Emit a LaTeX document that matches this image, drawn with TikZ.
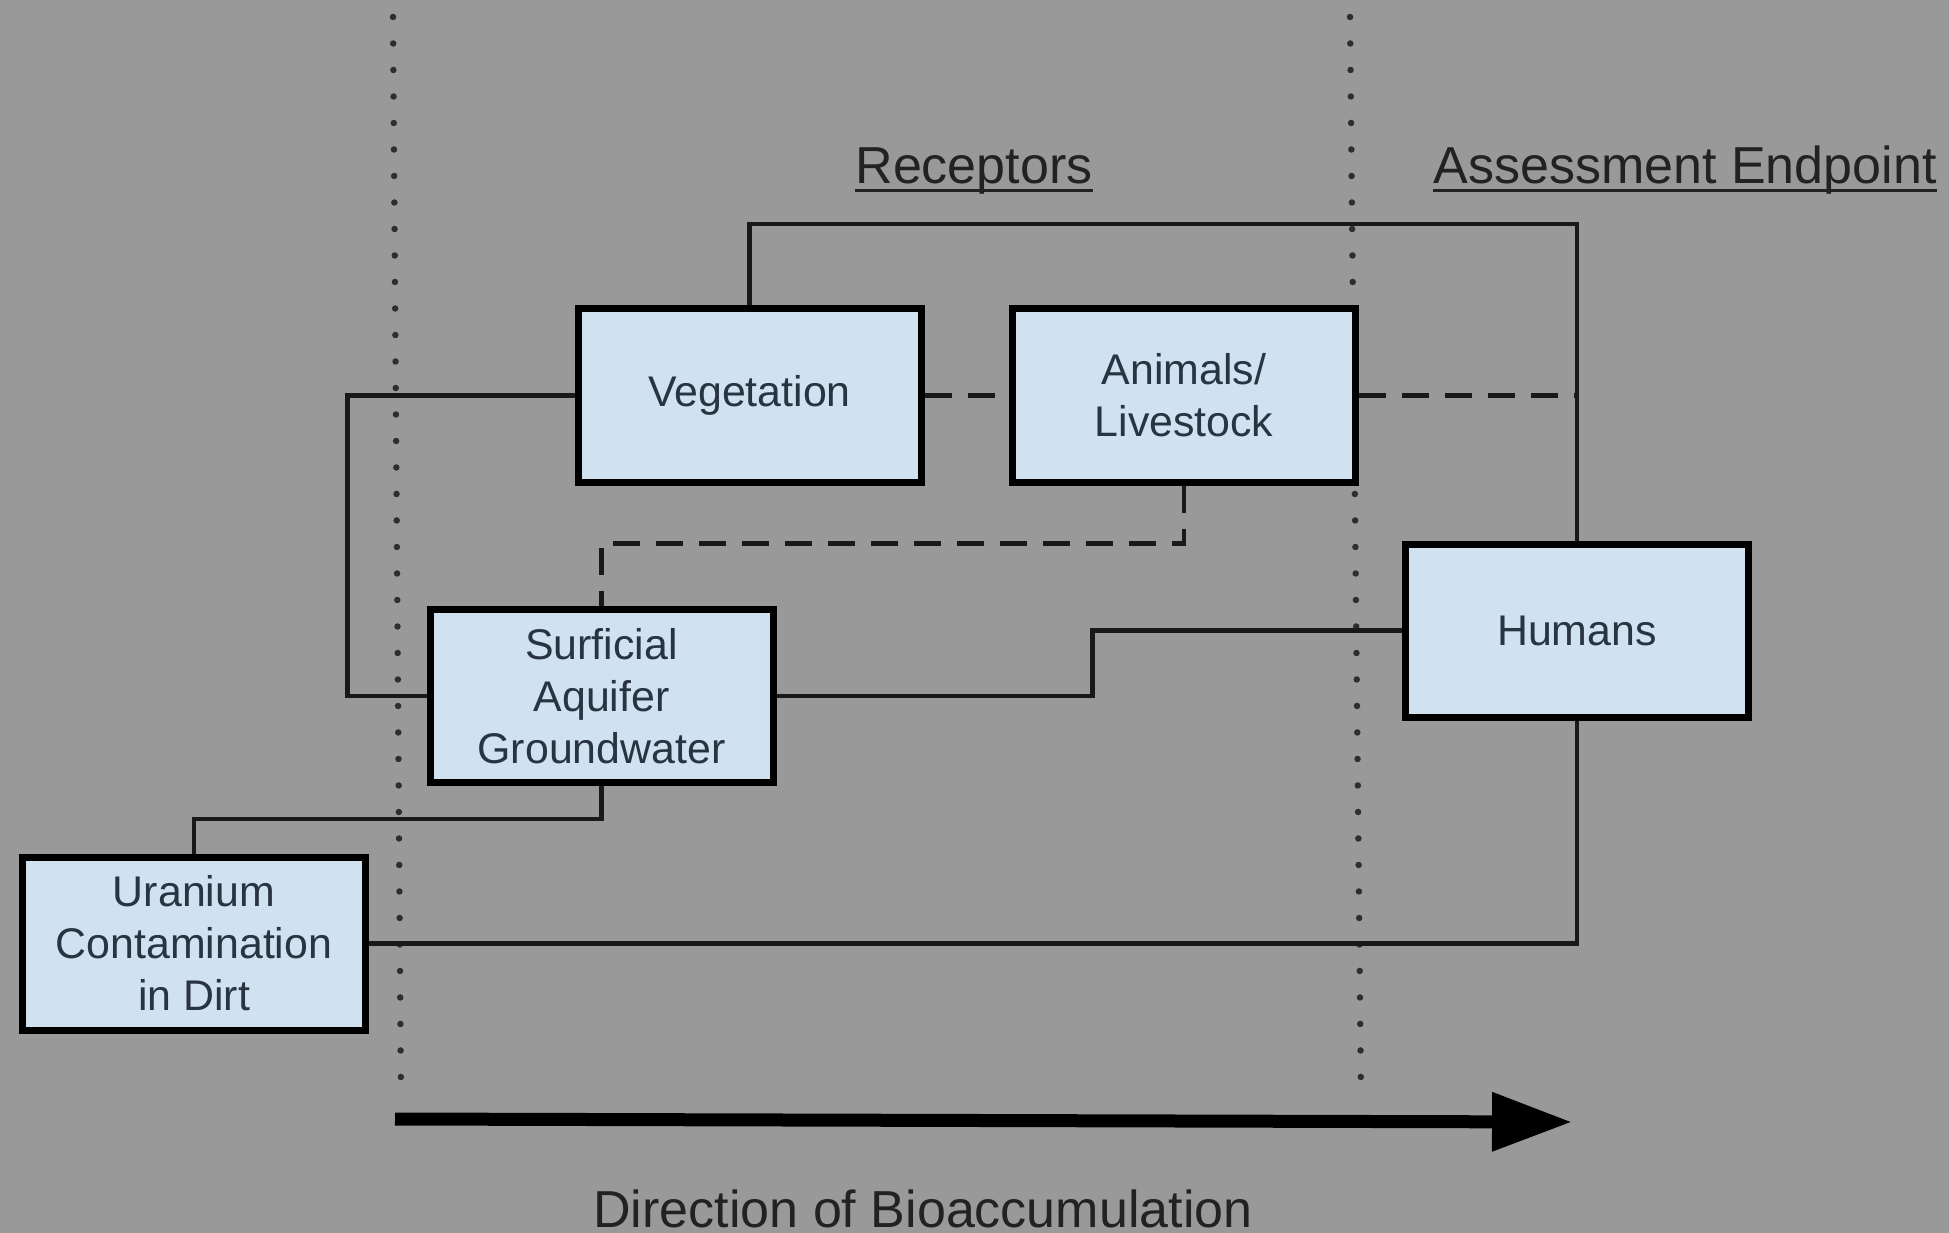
\documentclass[tikz,border=0pt]{standalone}
\usepackage{fontspec}
\setmainfont{Liberation Sans}
\usetikzlibrary{arrows.meta,calc}
\definecolor{bg}{RGB}{153,153,153}
\definecolor{boxfill}{RGB}{208,225,240}
\definecolor{boxtext}{RGB}{40,52,66}
\definecolor{headtext}{RGB}{34,34,34}
\begin{document}
\begin{tikzpicture}[
  box/.style={draw=black, line width=0.07cm, fill=boxfill, minimum width=3.43cm, minimum height=1.73cm, inner sep=0pt, align=center, text=boxtext, font=\fontsize{12.2}{14.8}\selectfont},
  conn/.style={line width=0.045cm, draw=black!90},
  dconn/.style={conn, dash pattern=on 0.27cm off 0.16cm},
  sepline/.style={line width=0.065cm, draw=black!82, dash pattern=on 0pt off 0.265cm, line cap=round},
  head/.style={font=\fontsize{14.8}{17}\selectfont, text=headtext, anchor=base, inner sep=0pt}
]
\fill[bg] (0,0) rectangle (19.49,-12.33);
\useasboundingbox (0,0) rectangle (19.49,-12.33);

% dotted separators
\coordinate (d1a) at (3.93,-0.17);
\coordinate (d1b) at (4.01,-11.02);
\coordinate (d2a) at (13.50,-0.17);
\coordinate (d2b) at (13.61,-11.00);
\draw[sepline] (d1a) -- (d1b);
\draw[sepline] (d2a) -- (d2b);

% boxes
\node[box] (veg) at (7.495,-3.955) {Vegetation};
\node[box] (anim) at (11.84,-3.955) {Animals/\\Livestock};
\node[box] (surf) at (6.015,-6.96) {Surficial\\Aquifer\\Groundwater};
\node[box] (hum) at (15.77,-6.305) {Humans};
\node[box] (ura) at (1.94,-9.435) {Uranium\\Contamination\\in Dirt};

% connectors
\coordinate (topy) at (0,-2.24);
\draw[conn] (veg.north) |- (topy -| hum.north) -- (hum.north);
\draw[conn] (veg.west) -- ++(-2.27,0) |- (surf.west);
\draw[dconn] (veg.east) -- (anim.west);
\draw[dconn] (anim.east) -- (anim.east -| hum.north);
\draw[dconn] (anim.south) -- ++(0,-0.58) -| (surf.north);
\draw[conn] (surf.east) -- ++(3.16,0) |- (hum.west);
\draw[conn] (surf.south) -- ++(0,-0.33) -| (ura.north);
\draw[conn] (ura.east) -| (hum.south);

% headings
\node[head] (rec) at (9.74,-1.84) {Receptors};
\draw[line width=0.03cm, headtext] ($(rec.base west)+(0,-0.07)$) -- ($(rec.base east)+(0,-0.07)$);
\node[head] (ase) at (16.85,-1.84) {Assessment Endpoint};
\draw[line width=0.03cm, headtext] ($(ase.base west)+(0,-0.07)$) -- ($(ase.base east)+(0,-0.07)$);

% direction arrow
\coordinate (arrA) at (3.95,-11.19);
\coordinate (arrB) at (15.72,-11.22);
\draw[line width=0.13cm, -{Triangle[length=0.8cm,width=0.56cm]}] (arrA) -- (arrB);
\node[head] (dir) at (9.23,-12.27) {Direction of Bioaccumulation};
\end{tikzpicture}
\end{document}
